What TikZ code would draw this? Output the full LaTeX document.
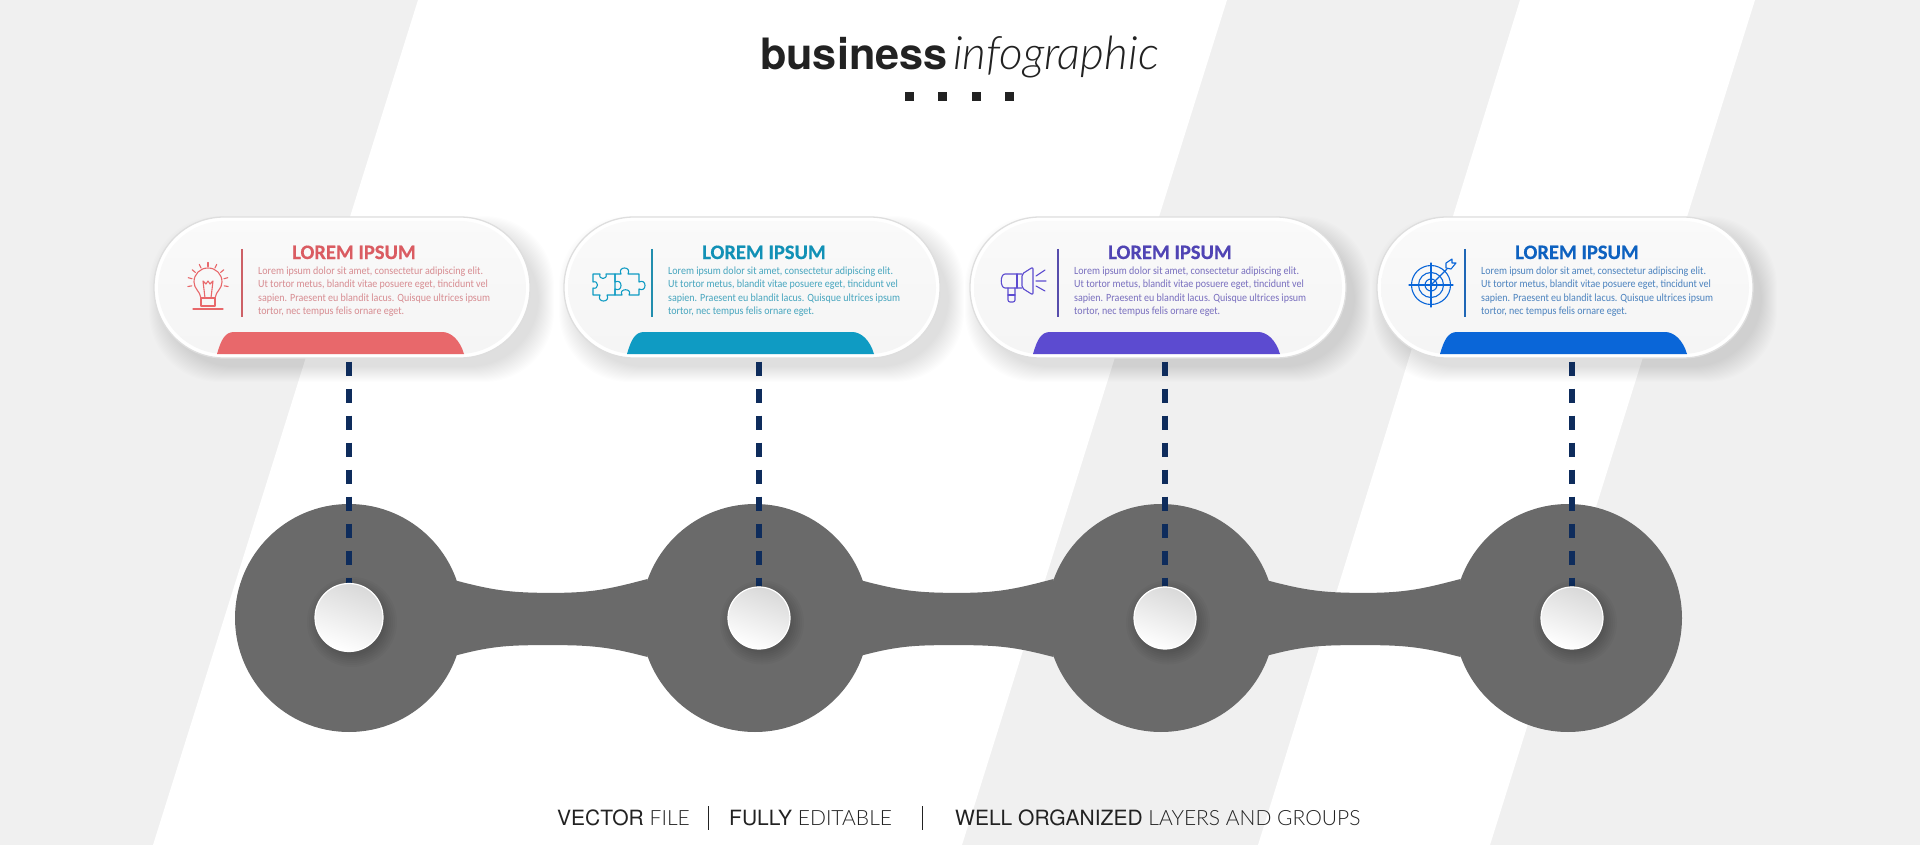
\documentclass[tikz,border=0pt]{standalone}
\usepackage{fontspec}
\usetikzlibrary{calc}
\usetikzlibrary{positioning}
\setmainfont{Carlito}
\newfontfamily\heros{TeX Gyre Heros}
\newfontfamily\lato{Lato Light}
\newfontfamily\slim[FakeStretch=0.91]{Carlito}
\newfontfamily\headfont[BoldFeatures={FakeBold=0.5}]{Carlito}
\pgfdeclarelayer{front}
\pgfsetlayers{main,front}
\definecolor{back2}{RGB}{240, 240, 240}
\definecolor{hub2}{RGB}{106, 106, 106}
\definecolor{navy2}{RGB}{14, 44, 92}
\definecolor{ink2}{RGB}{34, 34, 34}
\definecolor{red2}{RGB}{232, 104, 107}
\definecolor{redtitle}{RGB}{218, 92, 98}
\definecolor{redbody}{RGB}{215, 140, 145}
\definecolor{teal2}{RGB}{15, 155, 195}
\definecolor{tealtitle}{RGB}{18, 145, 182}
\definecolor{tealbody}{RGB}{70, 165, 190}
\definecolor{violet2}{RGB}{92, 75, 208}
\definecolor{violettitle}{RGB}{80, 68, 180}
\definecolor{violetbody}{RGB}{120, 110, 190}
\definecolor{blue2}{RGB}{10, 102, 216}
\definecolor{bluetitle}{RGB}{14, 98, 192}
\definecolor{bluebody}{RGB}{75, 130, 190}
\tikzset{
pill/.style={draw=black!13,line width=1.3pt,fill=white,rounded corners=70pt,minimum width=376pt,minimum height=141pt,inner sep=0pt},
pillface/.style={top color=black!2,bottom color=black!4,rounded corners=67pt,minimum width=368pt,minimum height=133pt,inner sep=0pt},
hub/.style={circle,fill=hub2,minimum size=228pt,inner sep=0pt},
dot/.style={circle,draw=white,line width=1.2pt,top color=black!15,bottom color=white,shading angle=-20,inner sep=0pt},
dashline/.style={navy2,line width=6pt,dash pattern=on 14pt off 13pt,shorten <=3pt},
headtext/.style={font=\headfont\fontsize{20.5}{24}\selectfont\bfseries,anchor=base},
bodytext/.style={font=\slim\fontsize{11}{13.4}\selectfont,align=left,anchor=north west,inner sep=0pt},
icon/.style={line width=1.1pt,line join=round,line cap=round},
foottext/.style={font=\heros\fontsize{21}{24}\selectfont,anchor=base west,inner sep=0pt,color=ink2},
}
% one pill: name, x of its rule, colours, icon
\newcommand{\infocard}[7]{
\begin{scope}[shift={(#2,0)}]
\foreach \s in {0,1,...,15}
	\fill[black,opacity=0.009,rounded corners=70pt] (100-188+10-\s,217+14-\s) rectangle (100+188+9+\s,358+9+\s);
\node[pill] (#1) at (100,287.5) {};
\node[pillface] (#1face) at (100,287.5) {};
\draw[#4!85!gray,line width=1.2pt] (0,249) -- (0,317);
\fill[#3] (-25,354) .. controls (-21,340) and (-17,332) .. (-8,332) -- (200,332) .. controls (209,332) and (218,340) .. (222,354) -- cycle;
\node[headtext,text=#4] (#1head) at (112,259) {LOREM IPSUM};
\node[bodytext,text=#5] (#1text) at (16,266.5) {Lorem ipsum dolor sit amet, consectetur adipiscing elit.\\Ut tortor metus, blandit vitae posuere eget, tincidunt vel\\sapien. Praesent eu blandit lacus. Quisque ultrices ipsum\\tortor, nec tempus felis ornare eget.};
\begin{scope}[shift={(-34,283)},icon,draw=#6]
#7
\end{scope}
\end{scope}
}
% band between two hubs
\newcommand{\hubneck}[2]{
\fill[hub2] (#1.19.5) .. controls +(38,10) and +(-40,0) .. ($(#1.19.5)!0.5!(#2.160.5)+(0,13)$) .. controls +(40,0) and +(-38,10) .. (#2.160.5)
	-- (#2.-160.5) .. controls +(-38,-10) and +(40,0) .. ($(#1.-19.5)!0.5!(#2.-160.5)+(0,-11)$) .. controls +(-40,0) and +(38,-10) .. (#1.-19.5) -- cycle;
}
\begin{document}
\begin{tikzpicture}[x=1pt,y=-1pt]
\useasboundingbox (0,0) rectangle (1920,845);
%Background bands
\fill[back2] (0,0) rectangle (1920,845);
\fill[white] (418,0) -- (1227,0) -- (962,845) -- (153,845) -- cycle;
\fill[white] (1520,0) -- (1755,0) -- (1490,845) -- (1258,845) -- cycle;

%Title
\node[font=\heros\bfseries\fontsize{43.2}{50}\selectfont,text=ink2,anchor=base west,inner sep=0pt] (titlea) at (760,70) {business};
\node[font=\lato\itshape\fontsize{46}{50}\selectfont,text=ink2,anchor=base west,inner sep=0pt] (titleb) at (953,70) {infographic};
\foreach \x in {909,942,976,1009}
	\fill[ink2] (\x-4.5,92.5) rectangle (\x+4.5,101.5);

%Place the hubs
\node[hub] (hub1) at (349,618) {};
\node[hub] (hub2) at (755,618) {};
\node[hub] (hub3) at (1161,618) {};
\node[hub] (hub4) at (1568,618) {};
\hubneck{hub1}{hub2}
\hubneck{hub2}{hub3}
\hubneck{hub3}{hub4}

%Cards
\infocard{card1}{242}{red2}{redtitle}{redbody}{red2}{
	\foreach \a in {-190,-165,...,10}
		\draw (\a:16.5) -- (\a:20.5);
	\draw (-7,15) .. controls (-8,8) and (-14,6) .. (-14,-1) .. controls (-14,-9) and (-8,-15) .. (0,-15) .. controls (8,-15) and (14,-9) .. (14,-1) .. controls (14,6) and (8,8) .. (7,15);
	\draw (-5,-2) -- (-3,15) (5,-2) -- (3,15) (-5,-2) -- (-2,1) -- (0,-2) -- (2,1) -- (5,-2);
	\draw (-7,15) rectangle (7,23);
	\draw (-15,26) -- (15,26);
}
\infocard{card2}{652}{teal2}{tealtitle}{tealbody}{teal2}{
	\draw (-25,-9) -- (-18,-9) .. controls +(-2,6) and +(2,6) .. +(6,0) -- (-3,-9) -- (-3,12) -- (-11,12) .. controls +(4,8) and +(-4,8) .. +(-7,0) -- (-25,12) -- (-25,5) .. controls +(6,2) and +(6,-2) .. +(0,-6) -- cycle;
	\draw (-3,-9) -- (3,-9) .. controls +(-4,-8) and +(4,-8) .. +(7,0) -- (21,-9) -- (21,-1) .. controls +(8,-4) and +(8,4) .. +(0,7) -- (21,12) -- (11,12) .. controls +(4,-7) and +(-4,-7) .. +(-7,0) -- (-3,12) -- (-3,6) .. controls +(8,4) and +(8,-4) .. +(0,-7) -- cycle;
}
\infocard{card3}{1058}{violet2}{violettitle}{violetbody}{violet2}{
	\draw[rounded corners=3pt] (-2,-9) -- (-16,-9) .. controls (-24,-9) and (-24,5) .. (-16,5) -- (-2,5);
	\draw[rounded corners=2pt] (-2,-9) -- (9,-16) -- (9,12) -- (-2,5) -- cycle;
	\draw (-7,-9) -- (-7,5);
	\draw[rounded corners=2pt] (-16,5) -- (-16,19) -- (-9,19) -- (-9,5);
	\draw (-16,12) -- (-9,12);
	\draw (12,-7) -- (21,-13) (12,-2) -- (22,-2) (12,3) -- (21,8);
}
\infocard{card4}{1465}{blue2}{bluetitle}{bluebody}{blue2}{
	\draw (0,2) circle[radius=19.5];
	\draw (0,2) circle[radius=12.5];
	\draw (0,2) circle[radius=6];
	\draw (-22,2) -- (22,2) (0,-20) -- (0,24);
	\draw (0,2) -- (16,-14);
	\draw (15,-15) -- (15,-20) -- (21,-24) -- (21,-20) -- (25,-20) -- (20,-14) -- cycle;
}

%Dots sit above their dashes and shadows
\begin{pgfonlayer}{front}
\node[dot,minimum size=68pt] (dot1) at (349,617.5) {};
\node[dot,minimum size=62pt] (dot2) at (759,618) {};
\node[dot,minimum size=62pt] (dot3) at (1165,618) {};
\node[dot,minimum size=62pt] (dot4) at (1572,618) {};
\end{pgfonlayer}
\foreach \i/\r in {1/34,2/31,3/31,4/31}{
	\draw[dashline] (card\i.south -| dot\i) -- (dot\i.north);
	\foreach \s in {-1,1,...,12}
		\fill[black,opacity=0.025] ($(dot\i)+(3,4.5)$) circle[radius=\r+\s];
}

%Footer
\node[foottext] (foota) at (557,825) {VECTOR \lato FILE};
\node[foottext] (footb) at (729,825) {FULLY \lato EDITABLE};
\node[foottext] (footc) at (955,825) {WELL ORGANIZED \lato LAYERS AND GROUPS};
\draw[ink2,line width=1pt] (708,806) -- (708,830);
\draw[ink2,line width=1pt] (922,806) -- (922,830);
\end{tikzpicture}
\end{document}
